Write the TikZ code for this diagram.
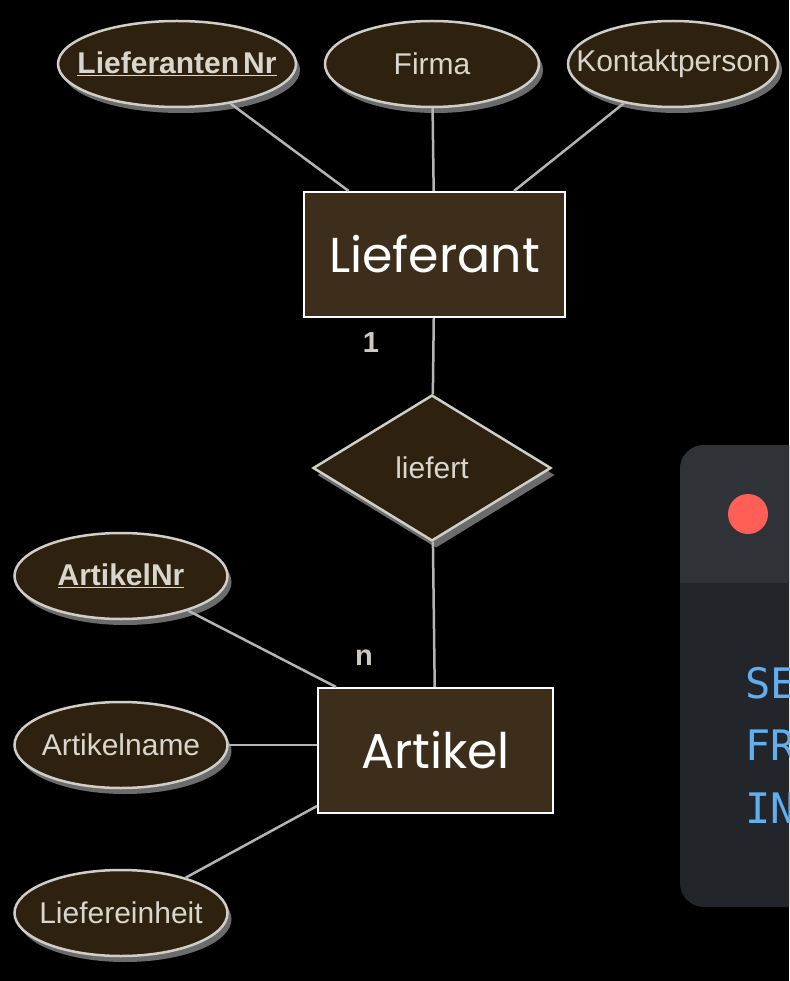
\documentclass[tikz,border=0pt]{standalone}
\usepackage{fontspec}
\setmainfont{Liberation Sans}
\newfontfamily\entfont{Poppins}
\newfontfamily\codefont{DejaVu Sans Mono}
\usetikzlibrary{shapes.geometric,shadows,calc}
\definecolor{entfill}{HTML}{3D2E1C}
\definecolor{attfill}{HTML}{2E210F}
\definecolor{attline}{HTML}{D0CEC8}
\definecolor{conn}{HTML}{B4B4B4}
\definecolor{lbl}{HTML}{DAD6CE}
\definecolor{hdr}{HTML}{2F3338}
\definecolor{body}{HTML}{22262B}
\definecolor{reddot}{HTML}{FF5F57}
\definecolor{codeblue}{HTML}{61AFEF}
\newcommand{\zb}[1]{\makebox[0pt][c]{#1}}
\begin{document}
\begin{tikzpicture}[x=1pt,y=-1pt,
  attr/.style={ellipse, minimum width=238pt, minimum height=86pt, inner sep=0pt,
    fill=attfill, draw=attline, line width=2.5pt, text=lbl,
    font=\fontsize{30}{30}\selectfont,
    drop shadow={fill=gray!80, shadow xshift=4pt, shadow yshift=-6pt, opacity=0.7}},
  entity/.style={rectangle, fill=entfill, draw=white, line width=2pt, text=white,
    inner sep=0pt, font=\entfont\fontsize{49}{49}\selectfont},
  rel/.style={diamond, minimum width=238pt, minimum height=146pt, inner sep=0pt,
    fill=attfill, draw=attline, line width=2.5pt, text=lbl,
    font=\fontsize{30}{30}\selectfont,
    drop shadow={fill=gray!80, shadow xshift=4pt, shadow yshift=-7pt, opacity=0.7}},
  conline/.style={draw=conn, line width=2.5pt},
  card/.style={text=lbl!85!gray, font=\bfseries\fontsize{29}{29}\selectfont},
  codetxt/.style={anchor=west, inner sep=0pt, text=codeblue, font=\codefont\fontsize{42}{42}\selectfont}
]
\useasboundingbox (0,0) rectangle (789,981);
\clip (0,0) rectangle (789,981);
\fill[black] (0,0) rectangle (789,981);

% code panel
\fill[body, rounded corners=24pt] (680,445) rectangle (830,907);
\begin{scope}
  \clip[rounded corners=24pt] (680,445) rectangle (830,907);
  \fill[hdr] (680,445) rectangle (830,583);
\end{scope}
\node[circle, fill=reddot, minimum size=40pt, inner sep=0pt] (dot) at (748,514) {};
\node[codetxt] (c1) at (745,683) {SE};
\node[codetxt] (c2) at (745,745) {FR};
\node[codetxt] (c3) at (745,808) {IN};

% entities
\node[entity, minimum width=261pt, minimum height=125pt] (lief) at (434.5,254.5) {Lieferant};
\node[entity, minimum width=235pt, minimum height=125pt] (art) at (435.5,750.5) {Artikel};

% relationship
\node[rel] (rel) at (432,468) {\zb{liefert}};

% attributes
\node[attr] (lnr) at (177,64) {\zb{\bfseries\underline{Lieferanten\hspace{4pt}Nr}}};
\node[attr, minimum width=214pt] (firma) at (432,64) {\zb{Firma}};
\node[attr, minimum width=210pt] (kontakt) at (673,64) {\zb{Kontaktperson}};
\node[attr, minimum width=213pt] (anr) at (121,576) {\zb{\bfseries\underline{ArtikelNr}}};
\node[attr, minimum width=213pt] (aname) at (121,745) {\zb{Artikelname}};
\node[attr, minimum width=213pt] (leh) at (121,913) {\zb{Liefereinheit}};

% connectors
\draw[conline] (lnr) -- (lief);
\draw[conline] (firma) -- (lief);
\draw[conline] (kontakt) -- (lief);
\draw[conline] (lief) -- (rel);
\draw[conline] (rel) -- (art);
\draw[conline] (anr) -- ($(art.north west)+(19,0)$);
\draw[conline] (aname) -- (art.west |- aname);
\draw[conline] (leh) -- ($(art.south west)+(0,-8)$);

% cardinalities
\node[card] (one) at (371,343) {1};
\node[card] (enn) at (364,658) {n};
\end{tikzpicture}
\end{document}
